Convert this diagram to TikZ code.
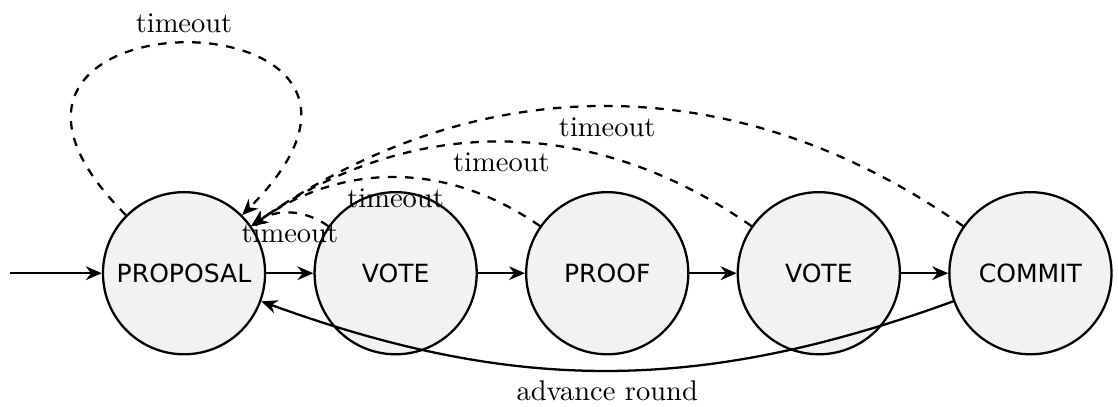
\documentclass[tikz,border=0pt]{standalone}
\usepackage{fontspec}
\newfontfamily\statefont{DejaVu Sans}
\usetikzlibrary{automata,positioning,arrows.meta}

\begin{document}
\begin{tikzpicture}[>={Stealth[length=5.6pt,width=4.8pt]}, node distance=2.61cm, on grid, auto,
	every state/.style={draw, thick, fill=gray!10, minimum size=2cm, inner sep=0pt,
		font=\statefont\fontsize{8.8}{10}\selectfont}]
	\useasboundingbox (0,0) rectangle (13.79,5.02);
	\node[state] (0) at (2.27,1.65) {PROPOSAL};
	\node[state] (1) [right=of 0] {VOTE};
	\node[state] (2) [right=of 1] {PROOF};
	\node[state] (3) [right=of 2] {VOTE};
	\node[state] (4) [right=of 3] {COMMIT};
	\coordinate[left=2.15cm of 0] (in);

	\path[->, thick]
		(in) edge node {} (0)
		(0) edge node {} (1)
		(1) edge node {} (2)
		(2) edge node {} (3)
		(3) edge node {} (4)
		(4) edge [bend left=20] node {advance round} (0);
	\path[->, thick, dashed]
		(0) edge [loop, in=45, out=135, distance=4cm] node {timeout} (0)
		(1) edge [bend right=35] node {timeout} (0)
		(2) edge [bend right=35] node {timeout} (0)
		(3) edge [bend right=35] node {timeout} (0)
		(4) edge [bend right=35] node {timeout} (0);
\end{tikzpicture}
\end{document}
